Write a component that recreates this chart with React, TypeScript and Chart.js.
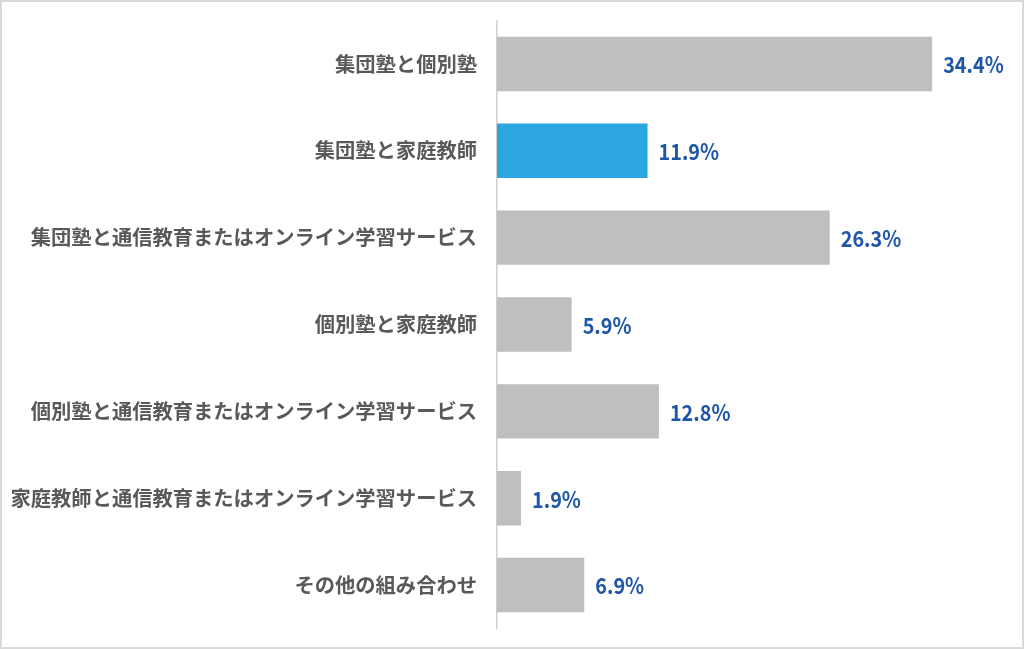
import React, { useEffect, useRef } from "react";
import { Chart, registerables } from "chart.js";

Chart.register(...registerables);

const categories: string[] = [
  "集団塾と個別塾",
  "集団塾と家庭教師",
  "集団塾と通信教育またはオンライン学習サービス",
  "個別塾と家庭教師",
  "個別塾と通信教育またはオンライン学習サービス",
  "家庭教師と通信教育またはオンライン学習サービス",
  "その他の組み合わせ",
];

const values: number[] = [34.4, 11.9, 26.3, 5.9, 12.8, 1.9, 6.9];

const highlightIndex = 1;

const GRAY = "#bfbfbf";
const BLUE = "#2ca6e0";
const LABEL_BLUE = "#1f56a8";
const TEXT_GRAY = "#595959";

const framePlugin = {
  id: "frame",
  beforeDraw(chart: any) {
    const { ctx, width, height } = chart;
    ctx.save();
    ctx.fillStyle = "#ffffff";
    ctx.fillRect(0, 0, width, height);
    ctx.strokeStyle = "#d9d9d9";
    ctx.lineWidth = 2;
    ctx.strokeRect(1, 1, width - 2, height - 2);
    ctx.restore();
  },
};

const valueLabelPlugin = {
  id: "valueLabels",
  afterDatasetsDraw(chart: any) {
    const { ctx } = chart;
    const meta = chart.getDatasetMeta(0);
    ctx.save();
    ctx.font = "bold 22px 'Noto Sans CJK JP', 'Noto Sans', sans-serif";
    ctx.fillStyle = LABEL_BLUE;
    ctx.textAlign = "left";
    ctx.textBaseline = "middle";
    meta.data.forEach((bar: any, i: number) => {
      ctx.save();
      ctx.translate(bar.x + 11, bar.y + 1);
      ctx.scale(0.9, 1);
      ctx.fillText(values[i].toFixed(1) + "%", 0, 0);
      ctx.restore();
    });
    ctx.restore();
  },
};

export default function App() {
  const ref = useRef<HTMLCanvasElement | null>(null);

  useEffect(() => {
    if (!ref.current) return;
    const chart = new Chart(ref.current, {
      type: "bar",
      data: {
        labels: categories,
        datasets: [
          {
            data: values,
            backgroundColor: values.map((_, i) => (i === highlightIndex ? BLUE : GRAY)),
            borderWidth: 0,
            categoryPercentage: 1,
            barPercentage: 0.627,
          },
        ],
      },
      options: {
        indexAxis: "y",
        animation: false,
        responsive: false,
        maintainAspectRatio: false,
        layout: { padding: { left: 0, right: 21, top: 20.5, bottom: 20.5 } },
        plugins: {
          legend: { display: false },
          tooltip: { enabled: false },
        },
        scales: {
          x: {
            display: false,
            min: 0,
            max: 40,
          },
          y: {
            afterFit(scale: any) {
              scale.width = 497;
              scale.paddingTop = 0;
              scale.paddingBottom = 0;
            },
            grid: { display: false, drawTicks: false },
            border: { display: true, color: "#d0d0d0", width: 1.5 },
            ticks: {
              padding: 20,
              color: TEXT_GRAY,
              font: { family: "'Noto Sans CJK JP', sans-serif", size: 20.3, weight: "bold" },
            },
          },
        },
      },
      plugins: [framePlugin, valueLabelPlugin],
    });
    return () => chart.destroy();
  }, []);

  return (
    <div style={{ position: "absolute", left: 0, top: 0, width: 1024, height: 649 }}>
      <canvas ref={ref} width={1024} height={649} style={{ display: "block" }} />
    </div>
  );
}
